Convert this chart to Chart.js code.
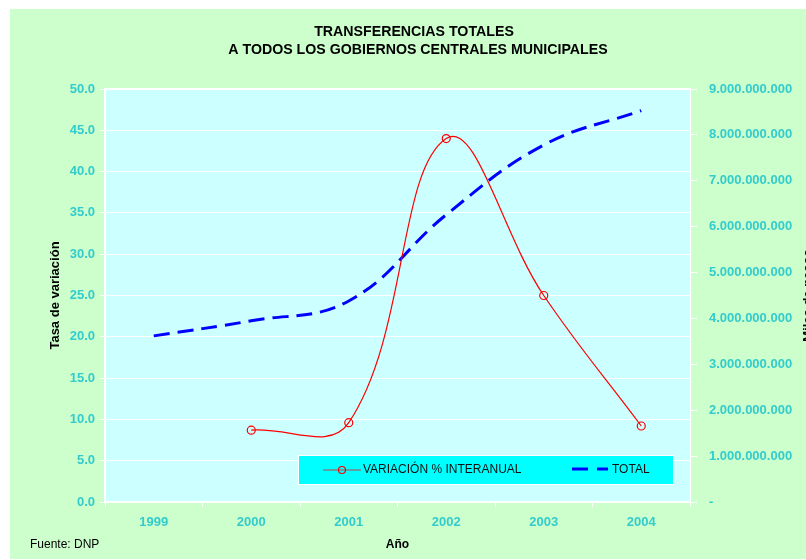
<!DOCTYPE html>
<html>
<head>
<meta charset="utf-8">
<script src="https://cdn.jsdelivr.net/npm/chart.js@4.4.1/dist/chart.umd.min.js"></script>
<style>
  body { margin: 0; background: #fff; overflow: hidden; }
  #wrap { width: 806px; height: 560px; }
</style>
</head>
<body>
<div id="wrap"><canvas id="myChart" width="806" height="560"></canvas></div>
<script>
const years = ['1999', '2000', '2001', '2002', '2003', '2004'];
const variacion = [null, 8.7, 9.6, 44.0, 25.0, 9.2];
const total = [3620000000, 3950000000, 4380000000, 6260000000, 7780000000, 8530000000];

const titleLines = ['TRANSFERENCIAS TOTALES', 'A TODOS LOS GOBIERNOS CENTRALES MUNICIPALES'];
const tickColor = '#33CCCC';
const fontName = '"Liberation Sans", Arial, sans-serif';

function fmtMiles(v) {
    if (v === 0) return '-';
    return Math.round(v).toString().replace(/\B(?=(\d{3})+(?!\d))/g, '.');
}

const decor = {
    id: 'decor',
    beforeDraw(chart) {
        const { ctx, chartArea: a } = chart;
        ctx.save();
        ctx.fillStyle = '#ffffff';
        ctx.fillRect(0, 0, chart.width, chart.height);
        ctx.fillStyle = '#CCFFCC';
        ctx.fillRect(10, 9, chart.width - 10, chart.height - 10);
        ctx.fillStyle = '#CCFFFF';
        ctx.fillRect(a.left, a.top, a.right - a.left, a.bottom - a.top);
        ctx.strokeStyle = '#ffffff';
        ctx.lineWidth = 1;
        ctx.strokeRect(a.left + 0.5, a.top - 0.5, a.right - a.left, a.bottom - a.top);
        ctx.restore();
    },
    afterDraw(chart) {
        const { ctx, chartArea: a } = chart;
        ctx.save();
        // title
        ctx.fillStyle = '#000';
        ctx.font = 'bold 14.2px ' + fontName;
        ctx.textAlign = 'center';
        ctx.textBaseline = 'middle';
        ctx.fillText(titleLines[0], 414, 32);
        ctx.fillText(titleLines[1], 418, 50);

        // right axis title (cut off by the edge)
        ctx.font = 'bold 13px ' + fontName;
        ctx.save();
        ctx.translate(808, (a.top + a.bottom) / 2);
        ctx.rotate(-Math.PI / 2);
        ctx.fillText('Miles de pesos', 0, 0);
        ctx.restore();

        // source
        ctx.font = '12px ' + fontName;
        ctx.textAlign = 'left';
        ctx.fillText('Fuente: DNP', 30, 545);

        // legend
        ctx.fillStyle = '#00FFFF';
        ctx.fillRect(298, 455, 375, 29);
        ctx.strokeStyle = '#ffffff';
        ctx.lineWidth = 1;
        ctx.strokeRect(298.5, 455.5, 375, 29);

        ctx.strokeStyle = '#808080';
        ctx.lineWidth = 1.5;
        ctx.beginPath();
        ctx.moveTo(323, 470);
        ctx.lineTo(361, 470);
        ctx.stroke();
        ctx.strokeStyle = '#FF0000';
        ctx.lineWidth = 1.2;
        ctx.beginPath();
        ctx.arc(342, 470, 3.5, 0, Math.PI * 2);
        ctx.stroke();

        ctx.strokeStyle = '#0000FF';
        ctx.lineWidth = 3;
        ctx.beginPath();
        ctx.moveTo(572, 469);
        ctx.lineTo(588, 469);
        ctx.moveTo(597, 469);
        ctx.lineTo(608, 469);
        ctx.stroke();

        ctx.fillStyle = '#111';
        ctx.font = '12px ' + fontName;
        ctx.textBaseline = 'middle';
        ctx.fillText('VARIACIÓN % INTERANUAL', 363, 470);
        ctx.fillText('TOTAL', 612, 470);
        ctx.restore();
    }
};

const ctx = document.getElementById('myChart');

const myChart = new Chart(ctx, {
    type: 'line',
    data: {
        labels: years,
        datasets: [
            {
                label: 'VARIACIÓN % INTERANUAL',
                data: variacion,
                yAxisID: 'y',
                borderColor: '#FF0000',
                borderWidth: 1.2,
                tension: 0.4,
                pointRadius: 4,
                pointBorderWidth: 1.2,
                pointBorderColor: '#FF0000',
                pointBackgroundColor: 'rgba(0,0,0,0)'
            },
            {
                label: 'TOTAL',
                data: total,
                yAxisID: 'y1',
                borderColor: '#0000FF',
                borderWidth: 3,
                borderDash: [16, 8],
                tension: 0.4,
                pointRadius: 0
            }
        ]
    },
    options: {
        responsive: false,
        animation: false,
        layout: { padding: { left: 10, top: 89, right: 0, bottom: 0 } },
        plugins: {
            legend: { display: false },
            title: { display: false },
            tooltip: { enabled: false }
        },
        scales: {
            x: {
                offset: true,
                grid: { drawOnChartArea: false, color: '#ffffff', tickLength: 5, offset: true },
                border: { color: '#ffffff', width: 2 },
                ticks: { color: tickColor, font: { family: fontName, size: 13, weight: 'bold' }, padding: 8 },
                title: { display: true, text: 'Año', color: '#000', font: { family: fontName, size: 12, weight: 'bold' }, padding: { top: 0, bottom: 8 } },
                afterFit(scale) { scale.height = 58; }
            },
            y: {
                position: 'left',
                min: 0,
                max: 50,
                ticks: {
                    stepSize: 5,
                    color: tickColor,
                    font: { family: fontName, size: 13, weight: 'bold' },
                    padding: 5,
                    callback: (v) => v.toFixed(1)
                },
                grid: { color: '#ffffff', lineWidth: 1, tickLength: 5 },
                border: { color: '#ffffff', width: 2 },
                title: { display: true, text: 'Tasa de variación', color: '#000', font: { family: fontName, size: 13, weight: 'bold' }, padding: { top: 38, bottom: 0 } },
                afterFit(scale) { scale.width = 95; }
            },
            y1: {
                position: 'right',
                min: 0,
                max: 9000000000,
                ticks: {
                    stepSize: 1000000000,
                    color: tickColor,
                    font: { family: fontName, size: 13, weight: 'bold' },
                    padding: 12,
                    callback: (v) => fmtMiles(v)
                },
                grid: { drawOnChartArea: false, color: '#ffffff', tickLength: 7 },
                border: { color: '#ffffff', width: 1 },
                afterFit(scale) { scale.width = 116; }
            }
        }
    },
    plugins: [decor]
});
</script>
</body>
</html>
